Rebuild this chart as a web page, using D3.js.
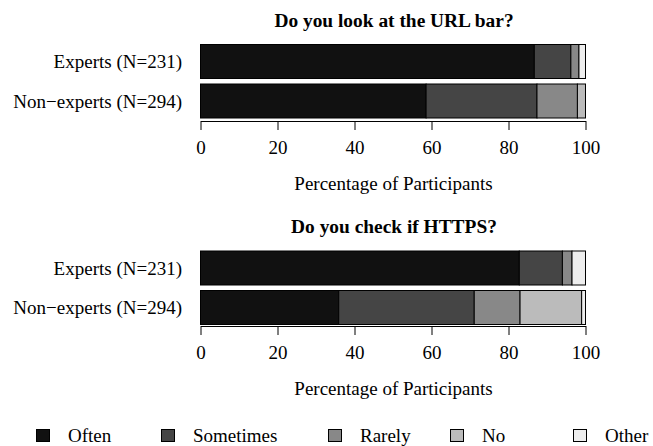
<!DOCTYPE html>
<html lang="en">
<head>
    <meta charset="UTF-8">
    <title>URL bar and HTTPS checks</title>
    <script src="https://d3js.org/d3.v7.min.js"></script>
    <style>
        body { margin: 0; background: #fff; }
        svg text { font-family: "Liberation Serif", "Times New Roman", serif; fill: #000; }
    </style>
</head>
<body>
    <svg id="chart" width="653" height="446"></svg>
    <script>
        // answer categories and their greys
        const answers = ["Often", "Sometimes", "Rarely", "No", "Other"];
        const answerColors = ["#111111", "#454545", "#888888", "#bbbbbb", "#eeeeee"];
        const groups = ["Experts (N=231)", "Non\u2212experts (N=294)"];
        const ticks = [0, 20, 40, 60, 80, 100];

        // percentages per group (Often, Sometimes, Rarely, No, Other)
        const urlExperts = [86.7, 9.5, 2.1, 0, 1.7];
        const urlNonExperts = [58.6, 28.8, 10.5, 2.1, 0];
        const httpsExperts = [82.8, 11.2, 2.5, 0, 3.5];
        const httpsNonExperts = [35.9, 35.2, 11.9, 16.0, 1.0];

        const titles = ["Do you look at the URL bar?", "Do you check if HTTPS?"];
        const panelValues = [[urlExperts, urlNonExperts], [httpsExperts, httpsNonExperts]];

        const svg = d3.select("#chart");
        const x = d3.scaleLinear().domain([0, 100]).range([200.5, 585.5]);
        const colorOf = d3.scaleOrdinal().domain(answers).range(answerColors);

        // top of the bars in each panel
        const panelTop = [44.5, 251];
        const barH = 34, barGap = 5.5;
        const fs = "19px";

        titles.forEach((title, p) => {
            const g = svg.append("g");
            const rows = panelValues[p].map((vals, i) => {
                const o = { group: groups[i] };
                answers.forEach((a, j) => o[a] = vals[j]);
                return o;
            });
            const y = d3.scaleBand().domain(groups)
                .range([panelTop[p], panelTop[p] + 2 * barH + barGap])
                .paddingInner(barGap / (barH + barGap));
            const stack = d3.stack().keys(answers)(rows);

            g.selectAll("g.layer").data(stack).join("g")
                .attr("class", "layer")
                .attr("fill", d => colorOf(d.key))
                .selectAll("rect").data(d => d.filter(s => s[1] - s[0] > 0)).join("rect")
                .attr("x", d => x(d[0]))
                .attr("width", d => x(d[1]) - x(d[0]))
                .attr("y", d => y(d.data.group))
                .attr("height", y.bandwidth())
                .attr("stroke", "#000")
                .attr("stroke-width", 1);

            g.selectAll("text.cat").data(groups).join("text")
                .attr("class", "cat")
                .attr("x", 182)
                .attr("y", d => y(d) + y.bandwidth() / 2)
                .attr("dy", "0.35em")
                .attr("text-anchor", "end")
                .style("font-size", fs)
                .text(d => d);

            const axisY = y.range()[1] + (p === 0 ? 3 : 1.5);
            const axis = g.append("g")
                .attr("transform", `translate(0,${axisY})`)
                .call(d3.axisBottom(x).tickValues(ticks).tickSize(9).tickSizeOuter(0).tickPadding(10.5));
            axis.select(".domain").attr("stroke", "#000");
            axis.selectAll(".tick line").attr("stroke", "#000");
            axis.selectAll(".tick text")
                .style("font-size", fs)
                .style("font-family", "Liberation Serif, serif");

            g.append("text")
                .attr("x", 393.5)
                .attr("y", axisY + 68.5)
                .attr("text-anchor", "middle")
                .style("font-size", fs)
                .text("Percentage of Participants");

            g.append("text")
                .attr("x", 394)
                .attr("y", panelTop[p] - 18)
                .attr("text-anchor", "middle")
                .style("font-size", "19.4px")
                .style("font-weight", "bold")
                .text(title);
        });

        // legend along the bottom
        const legendX = [36, 161, 328, 450, 573];
        const legend = svg.append("g").attr("transform", "translate(0,429)");
        const item = legend.selectAll("g").data(answers).join("g")
            .attr("transform", (d, i) => `translate(${legendX[i]},0)`);
        item.append("rect")
            .attr("x", 0.5).attr("y", 0.5)
            .attr("width", 13).attr("height", 12)
            .attr("fill", d => colorOf(d))
            .attr("stroke", "#000");
        item.append("text")
            .attr("x", 32)
            .attr("y", 13)
            .style("font-size", fs)
            .text(d => d);
    </script>
</body>
</html>
